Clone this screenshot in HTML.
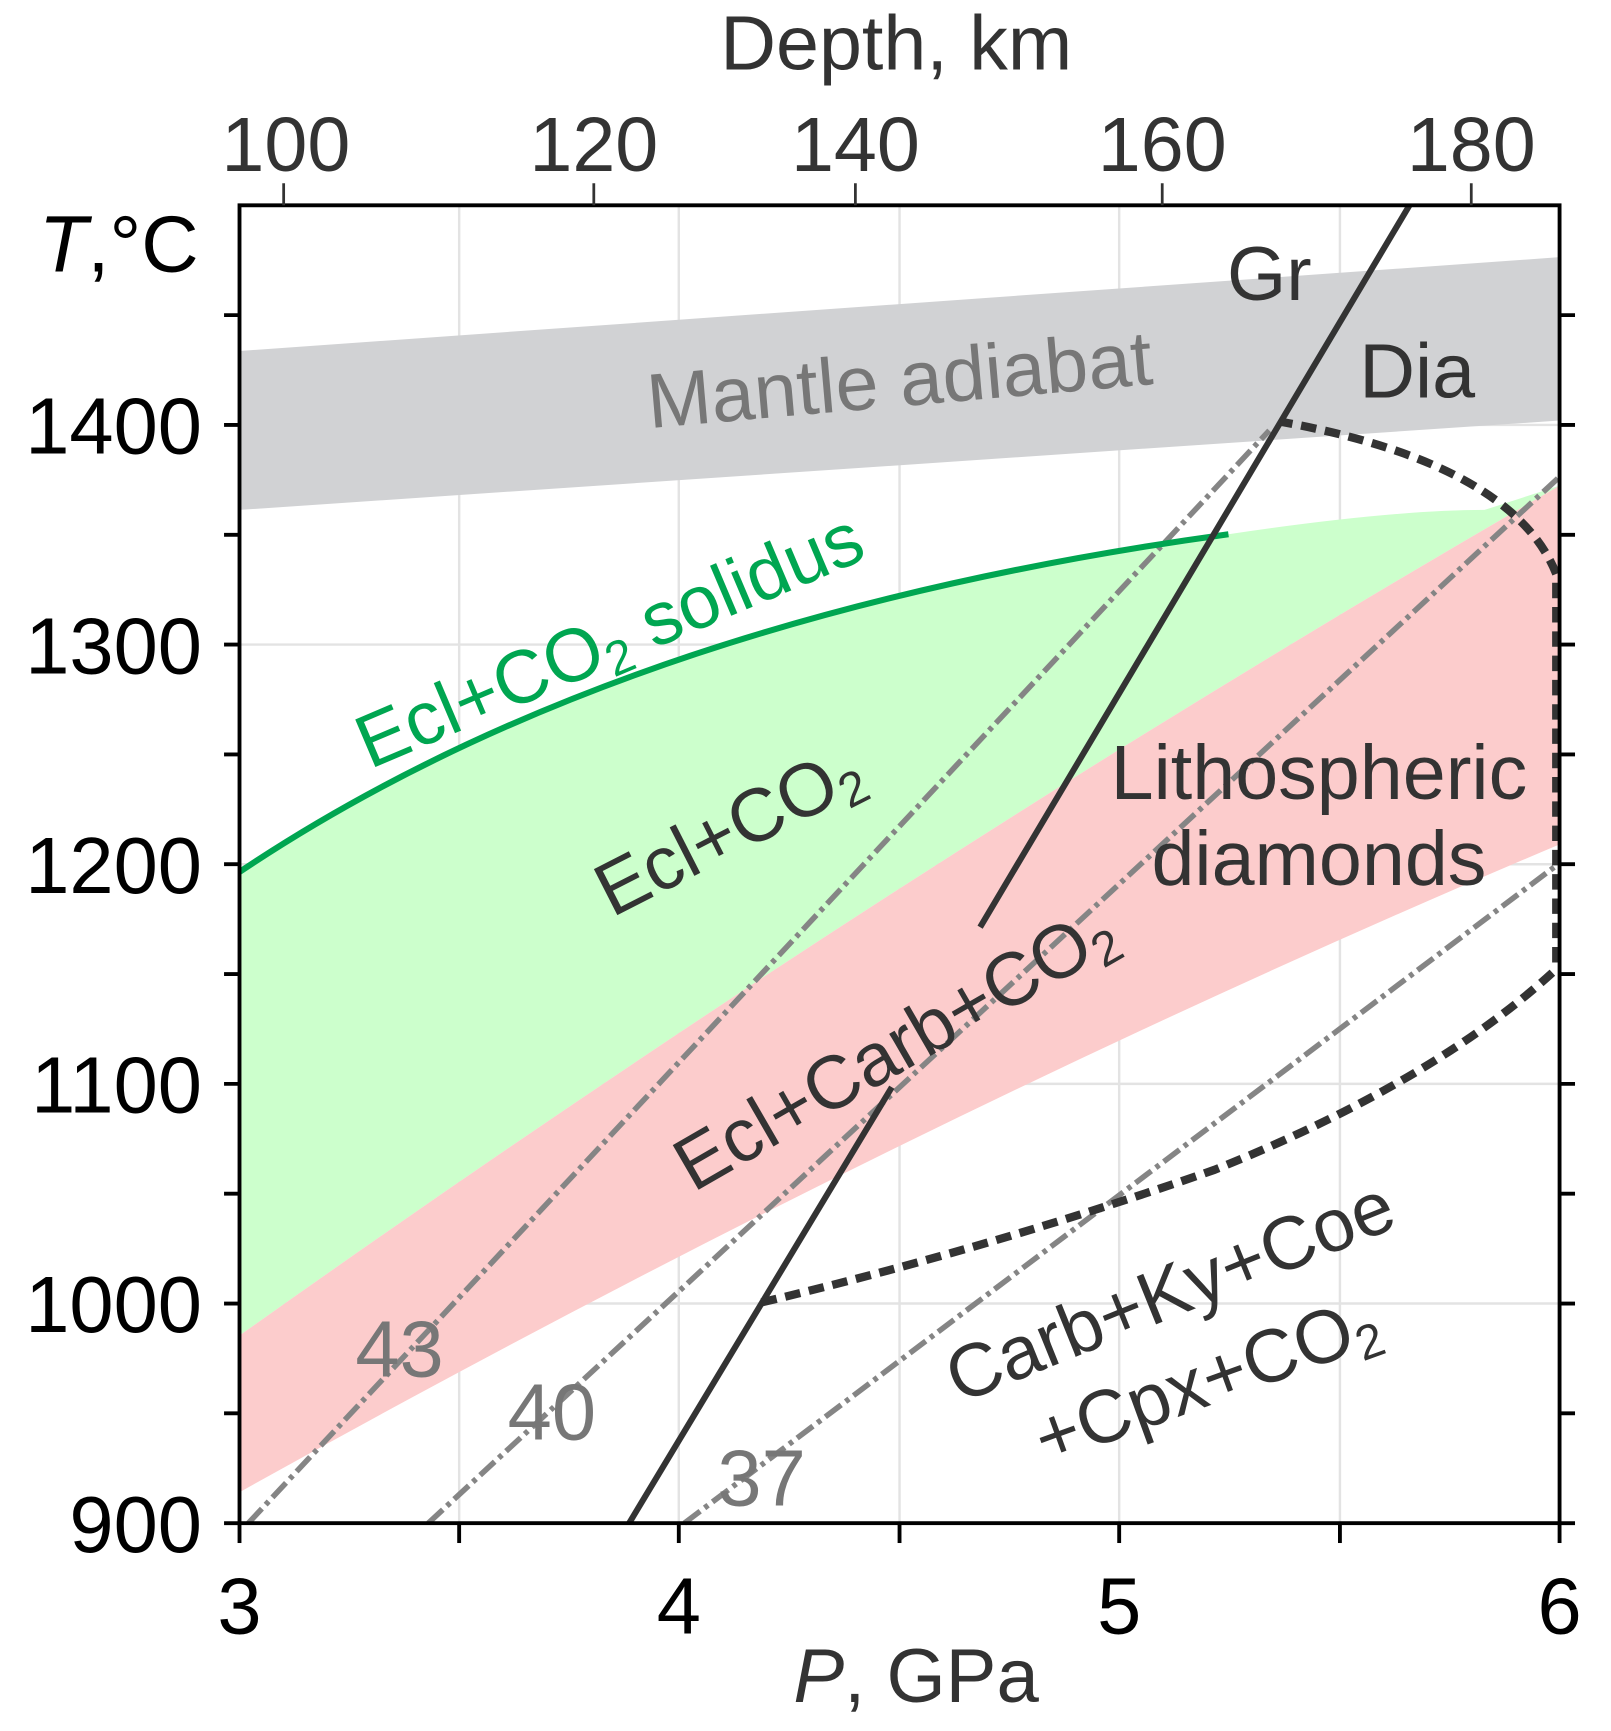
<!DOCTYPE html>
<html><head><meta charset="utf-8"><style>html,body{margin:0;padding:0;background:#fff}svg{display:block}</style></head>
<body>
<svg width="1611" height="1731" viewBox="0 0 1459.6 1568.3" xmlns="http://www.w3.org/2000/svg" font-family="Liberation Sans, Arial, sans-serif">
<!-- grid -->
<g stroke="#e3e3e3" stroke-width="2.2">
<line x1="416" y1="186" x2="416" y2="1380"/><line x1="615" y1="186" x2="615" y2="1380"/><line x1="815" y1="186" x2="815" y2="1380"/><line x1="1014" y1="186" x2="1014" y2="1380"/><line x1="1214" y1="186" x2="1214" y2="1380"/>
<line x1="217" y1="1181" x2="1413" y2="1181"/><line x1="217" y1="982" x2="1413" y2="982"/><line x1="217" y1="783" x2="1413" y2="783"/><line x1="217" y1="584" x2="1413" y2="584"/><line x1="217" y1="385" x2="1413" y2="385"/>
</g>
<!-- mantle adiabat -->
<polygon points="217,318 1413,233 1413,381 217,462" fill="#d1d2d4"/>
<!-- green -->
<path d="M217,790 Q560,560 1113,484 Q1260,462 1345,462 L1413,440 Q815,785 217,1210 Z" fill="#ccffcc"/>
<!-- pink -->
<path d="M217,1210 Q815,785 1413,440 L1413,765 Q815,1018 217,1352 Z" fill="#fccccc"/>
<!-- geotherms -->
<g stroke="#858585" stroke-width="5" fill="none" stroke-dasharray="18 5 4 5">
<line x1="225" y1="1380" x2="1150" y2="390"/>
<line x1="388" y1="1380" x2="1413" y2="432"/>
<line x1="620" y1="1380" x2="1413" y2="782"/>
</g>
<!-- solidus -->
<path d="M217,790 Q560,560 1113,484" stroke="#00a651" stroke-width="5.5" fill="none"/>
<!-- Gr/Dia -->
<g stroke="#333" stroke-width="5.5">
<line x1="888" y1="840" x2="1277" y2="186"/>
<line x1="570" y1="1380" x2="808" y2="985"/>
</g>
<!-- dashed boundary -->
<g stroke="#333" stroke-width="7.5" fill="none" stroke-dasharray="14 8">
<path d="M690,1180 Q900,1130 1100,1060 Q1300,980 1410,878"/>
<path d="M1410,872 L1410,520 Q1370,420 1160,382"/>
</g>
<!-- axes -->
<rect x="217" y="186" width="1196" height="1194" fill="none" stroke="#000" stroke-width="3.5"/>
<g stroke="#000" stroke-width="3.5">
<line x1="217" y1="1380" x2="217" y2="1398"/><line x1="416" y1="1380" x2="416" y2="1398"/><line x1="615" y1="1380" x2="615" y2="1398"/><line x1="815" y1="1380" x2="815" y2="1398"/><line x1="1014" y1="1380" x2="1014" y2="1398"/><line x1="1214" y1="1380" x2="1214" y2="1398"/><line x1="1413" y1="1380" x2="1413" y2="1398"/>
</g>
<g stroke="#000" stroke-width="3.5">
<path d="M203,1380H217M203,1280.5H217M203,1181H217M203,1081.5H217M203,982H217M203,882.5H217M203,783H217M203,683.5H217M203,584H217M203,484.5H217M203,385H217M203,285.5H217"/>
<path d="M1413,1380H1427M1413,1280.5H1427M1413,1181H1427M1413,1081.5H1427M1413,982H1427M1413,882.5H1427M1413,783H1427M1413,683.5H1427M1413,584H1427M1413,484.5H1427M1413,385H1427M1413,285.5H1427"/>
</g>
<g stroke="#333" stroke-width="2.5">
<path d="M257,186V166M538,186V166M775,186V166M1053,186V166M1333,186V166"/>
</g>
<!-- tick labels -->
<g font-size="70" fill="#333" text-anchor="middle">
<text x="259" y="155">100</text><text x="538" y="155">120</text><text x="775" y="155">140</text><text x="1053" y="155">160</text><text x="1333" y="155">180</text>
<text x="812" y="63">Depth, km</text>
</g>
<g font-size="72" fill="#000" text-anchor="end">
<text x="183" y="411">1400</text>
<text x="183" y="1406">900</text><text x="183" y="1207">1000</text><text x="183" y="1008">1100</text><text x="183" y="809">1200</text><text x="183" y="610">1300</text>
<text x="180" y="246"><tspan font-style="italic">T</tspan>,°C</text>
</g>
<g font-size="72" fill="#000" text-anchor="middle">
<text x="217" y="1480">3</text><text x="615" y="1480">4</text><text x="1014" y="1480">5</text><text x="1413" y="1480">6</text>
</g>
<text x="830" y="1542" font-size="69" fill="#333" text-anchor="middle"><tspan font-style="italic">P</tspan>, GPa</text>
<!-- labels -->
<text x="815" y="368" font-size="70" fill="#777" text-anchor="middle" transform="rotate(-5 815 345)">Mantle adiabat</text>
<text x="1150" y="272" font-size="69" fill="#333" text-anchor="middle">Gr</text>
<text x="1284" y="360" font-size="70" fill="#333" text-anchor="middle">Dia</text>
<text x="335" y="697" font-size="68" fill="#00a651" transform="rotate(-23 335 697)">Ecl+CO<tspan font-size="44" dy="10">2</tspan><tspan dy="-10"> solidus</tspan></text>
<text x="660" y="775" font-size="68" fill="#333" text-anchor="middle" transform="rotate(-27 660 752)">Ecl+CO<tspan font-size="44" dy="10">2</tspan></text>
<text x="810" y="972" font-size="68" fill="#333" text-anchor="middle" transform="rotate(-30 810 948)">Ecl+Carb+CO<tspan font-size="44" dy="10">2</tspan></text>
<text x="1195" y="724" font-size="70" fill="#333" text-anchor="middle">Lithospheric</text>
<text x="1195" y="802" font-size="70" fill="#333" text-anchor="middle">diamonds</text>
<text x="1060" y="1193" font-size="68" fill="#333" text-anchor="middle" transform="rotate(-22 1060 1170)">Carb+Ky+Coe</text>
<text x="1093" y="1273" font-size="68" fill="#333" text-anchor="middle" transform="rotate(-20 1093 1250)">+Cpx+CO<tspan font-size="44" dy="10">2</tspan></text>
<g font-size="72" fill="#777" text-anchor="middle">
<text x="362" y="1247">43</text><text x="500" y="1304">40</text><text x="690" y="1364">37</text>
</g>
</svg>
</body></html>
